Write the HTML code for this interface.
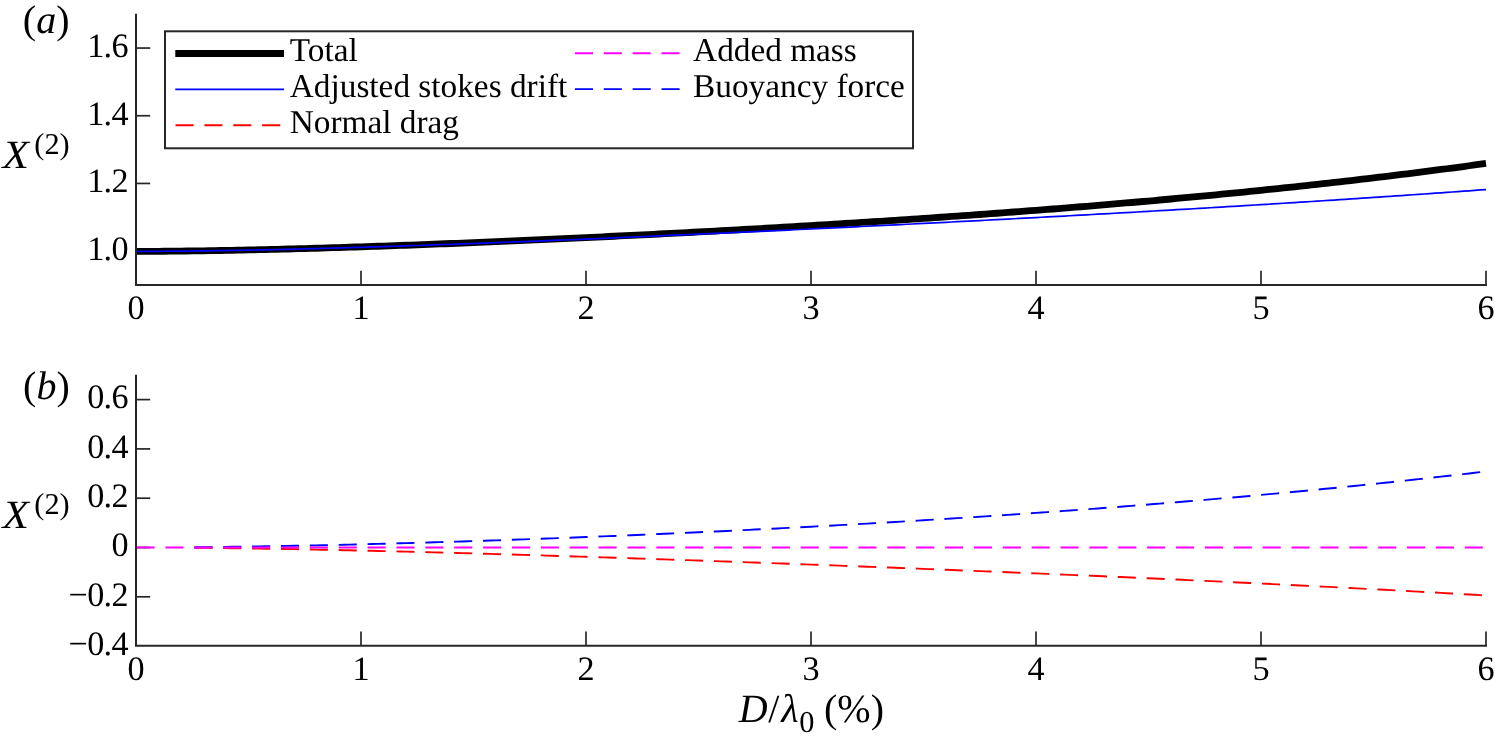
<!DOCTYPE html>
<html><head><meta charset="utf-8"><title>Figure</title>
<style>
html,body{margin:0;padding:0;background:#fff;}
body{width:1495px;height:742px;overflow:hidden;}
svg{display:block;will-change:transform;}
text{font-family:"Liberation Serif",serif;fill:#000;text-rendering:geometricPrecision;}
.t{font-size:33.3px;}
.k{font-size:34.2px;letter-spacing:-0.7px;}
.l{font-size:40px;}
.s{font-size:30.3px;}
.i{font-style:italic;}
.ax{stroke:#262626;stroke-width:2;fill:none;}
.tk{stroke:#262626;stroke-width:1.7;fill:none;}
.c{fill:none;stroke-width:1.9;}
.d{stroke-dasharray:18.1 10.773;stroke-dashoffset:-0.6;}
</style></head><body>
<svg width="1495" height="742" viewBox="0 0 1495 742">
<rect x="0" y="0" width="1495" height="742" fill="#fff"/>
<g id="panel-a">
<path class="tk" d="M136.0,251.15 h14.2"/>
<text class="k" x="127.8" y="259.95" text-anchor="end">1.0</text>
<path class="tk" d="M136.0,183.45 h14.2"/>
<text class="k" x="127.8" y="192.25" text-anchor="end">1.2</text>
<path class="tk" d="M136.0,115.75 h14.2"/>
<text class="k" x="127.8" y="124.55" text-anchor="end">1.4</text>
<path class="tk" d="M136.0,48.05 h14.2"/>
<text class="k" x="127.8" y="56.85" text-anchor="end">1.6</text>
<text class="k" x="135.80" y="318.50" text-anchor="middle">0</text>
<path class="tk" d="M361.00,285.0 v-14.2"/>
<text class="k" x="360.80" y="318.50" text-anchor="middle">1</text>
<path class="tk" d="M586.00,285.0 v-14.2"/>
<text class="k" x="585.80" y="318.50" text-anchor="middle">2</text>
<path class="tk" d="M811.00,285.0 v-14.2"/>
<text class="k" x="810.80" y="318.50" text-anchor="middle">3</text>
<path class="tk" d="M1036.00,285.0 v-14.2"/>
<text class="k" x="1035.80" y="318.50" text-anchor="middle">4</text>
<path class="tk" d="M1261.00,285.0 v-14.2"/>
<text class="k" x="1260.80" y="318.50" text-anchor="middle">5</text>
<path class="tk" d="M1486.00,285.0 v-14.2"/>
<text class="k" x="1485.80" y="318.50" text-anchor="middle">6</text>
<path d="M136.00,251.35 L141.62,251.35 L147.25,251.33 L152.88,251.31 L158.50,251.28 L164.12,251.24 L169.75,251.20 L175.38,251.15 L181.00,251.09 L186.62,251.02 L192.25,250.95 L197.88,250.88 L203.50,250.80 L209.12,250.71 L214.75,250.62 L220.38,250.52 L226.00,250.42 L231.62,250.31 L237.25,250.20 L242.88,250.08 L248.50,249.96 L254.12,249.84 L259.75,249.71 L265.38,249.58 L271.00,249.44 L276.62,249.30 L282.25,249.16 L287.88,249.01 L293.50,248.86 L299.12,248.71 L304.75,248.55 L310.38,248.39 L316.00,248.23 L321.62,248.06 L327.25,247.89 L332.88,247.72 L338.50,247.54 L344.12,247.37 L349.75,247.18 L355.38,247.00 L361.00,246.81 L366.62,246.63 L372.25,246.43 L377.88,246.24 L383.50,246.04 L389.12,245.85 L394.75,245.64 L400.38,245.44 L406.00,245.23 L411.62,245.03 L417.25,244.82 L422.88,244.60 L428.50,244.39 L434.13,244.17 L439.75,243.95 L445.38,243.73 L451.00,243.51 L456.62,243.28 L462.25,243.06 L467.88,242.83 L473.50,242.60 L479.13,242.37 L484.75,242.13 L490.38,241.89 L496.00,241.66 L501.62,241.42 L507.25,241.17 L512.88,240.93 L518.50,240.69 L524.12,240.44 L529.75,240.19 L535.38,239.94 L541.00,239.69 L546.62,239.43 L552.25,239.18 L557.88,238.92 L563.50,238.66 L569.12,238.40 L574.75,238.13 L580.38,237.87 L586.00,237.60 L591.62,237.34 L597.25,237.07 L602.88,236.80 L608.50,236.52 L614.12,236.25 L619.75,235.97 L625.38,235.70 L631.00,235.42 L636.62,235.13 L642.25,234.85 L647.88,234.57 L653.50,234.28 L659.12,233.99 L664.75,233.71 L670.38,233.41 L676.00,233.12 L681.63,232.83 L687.25,232.53 L692.88,232.23 L698.50,231.93 L704.13,231.63 L709.75,231.33 L715.38,231.03 L721.00,230.72 L726.62,230.41 L732.25,230.10 L737.88,229.79 L743.50,229.48 L749.12,229.16 L754.75,228.84 L760.38,228.52 L766.00,228.20 L771.62,227.88 L777.25,227.56 L782.88,227.23 L788.50,226.90 L794.13,226.57 L799.75,226.24 L805.38,225.91 L811.00,225.57 L816.63,225.23 L822.25,224.89 L827.88,224.55 L833.50,224.21 L839.12,223.86 L844.75,223.51 L850.38,223.16 L856.00,222.81 L861.62,222.46 L867.25,222.10 L872.88,221.74 L878.50,221.38 L884.12,221.02 L889.75,220.65 L895.38,220.29 L901.00,219.92 L906.63,219.54 L912.25,219.17 L917.88,218.79 L923.50,218.41 L929.13,218.03 L934.75,217.65 L940.38,217.26 L946.00,216.87 L951.62,216.48 L957.25,216.09 L962.88,215.69 L968.50,215.29 L974.12,214.89 L979.75,214.49 L985.38,214.08 L991.00,213.67 L996.62,213.26 L1002.25,212.85 L1007.88,212.43 L1013.50,212.01 L1019.13,211.59 L1024.75,211.16 L1030.38,210.73 L1036.00,210.30 L1041.62,209.87 L1047.25,209.43 L1052.88,208.99 L1058.50,208.54 L1064.12,208.10 L1069.75,207.65 L1075.38,207.20 L1081.00,206.74 L1086.62,206.28 L1092.25,205.82 L1097.88,205.35 L1103.50,204.89 L1109.12,204.41 L1114.75,203.94 L1120.38,203.46 L1126.00,202.98 L1131.62,202.49 L1137.25,202.00 L1142.88,201.51 L1148.50,201.02 L1154.12,200.52 L1159.75,200.01 L1165.38,199.51 L1171.00,199.00 L1176.62,198.48 L1182.25,197.97 L1187.88,197.44 L1193.50,196.92 L1199.13,196.39 L1204.75,195.86 L1210.38,195.32 L1216.00,194.78 L1221.62,194.24 L1227.25,193.69 L1232.88,193.13 L1238.50,192.58 L1244.13,192.02 L1249.75,191.45 L1255.38,190.88 L1261.00,190.31 L1266.62,189.73 L1272.25,189.15 L1277.88,188.56 L1283.50,187.97 L1289.12,187.38 L1294.75,186.78 L1300.38,186.17 L1306.00,185.56 L1311.63,184.95 L1317.25,184.33 L1322.88,183.71 L1328.50,183.08 L1334.12,182.45 L1339.75,181.81 L1345.38,181.17 L1351.00,180.53 L1356.63,179.88 L1362.25,179.22 L1367.88,178.56 L1373.50,177.89 L1379.12,177.22 L1384.75,176.54 L1390.38,175.86 L1396.00,175.17 L1401.62,174.48 L1407.25,173.79 L1412.88,173.08 L1418.50,172.37 L1424.13,171.66 L1429.75,170.94 L1435.38,170.22 L1441.00,169.49 L1446.62,168.75 L1452.25,168.01 L1457.88,167.27 L1463.50,166.51 L1469.13,165.75 L1474.75,164.99 L1480.38,164.22 L1486.00,163.45" fill="none" stroke="#000" stroke-width="6.8"/>
<path class="c" d="M136.00,251.35 L141.62,251.35 L147.25,251.34 L152.88,251.32 L158.50,251.29 L164.12,251.26 L169.75,251.22 L175.38,251.17 L181.00,251.12 L186.62,251.07 L192.25,251.00 L197.88,250.94 L203.50,250.87 L209.12,250.79 L214.75,250.71 L220.38,250.62 L226.00,250.53 L231.62,250.44 L237.25,250.34 L242.88,250.24 L248.50,250.13 L254.12,250.02 L259.75,249.90 L265.38,249.79 L271.00,249.66 L276.62,249.54 L282.25,249.41 L287.88,249.28 L293.50,249.14 L299.12,249.01 L304.75,248.86 L310.38,248.72 L316.00,248.57 L321.62,248.42 L327.25,248.27 L332.88,248.12 L338.50,247.96 L344.12,247.80 L349.75,247.63 L355.38,247.47 L361.00,247.30 L366.62,247.13 L372.25,246.96 L377.88,246.78 L383.50,246.60 L389.12,246.43 L394.75,246.24 L400.38,246.06 L406.00,245.87 L411.62,245.69 L417.25,245.50 L422.88,245.31 L428.50,245.11 L434.13,244.92 L439.75,244.72 L445.38,244.52 L451.00,244.32 L456.62,244.12 L462.25,243.92 L467.88,243.71 L473.50,243.50 L479.13,243.29 L484.75,243.08 L490.38,242.87 L496.00,242.66 L501.62,242.44 L507.25,242.23 L512.88,242.01 L518.50,241.79 L524.12,241.57 L529.75,241.35 L535.38,241.13 L541.00,240.90 L546.62,240.68 L552.25,240.45 L557.88,240.22 L563.50,240.00 L569.12,239.77 L574.75,239.53 L580.38,239.30 L586.00,239.07 L591.62,238.83 L597.25,238.60 L602.88,238.36 L608.50,238.12 L614.12,237.88 L619.75,237.64 L625.38,237.40 L631.00,237.16 L636.62,236.92 L642.25,236.68 L647.88,236.43 L653.50,236.18 L659.12,235.94 L664.75,235.69 L670.38,235.44 L676.00,235.19 L681.63,234.94 L687.25,234.69 L692.88,234.44 L698.50,234.19 L704.13,233.93 L709.75,233.68 L715.38,233.42 L721.00,233.17 L726.62,232.91 L732.25,232.65 L737.88,232.39 L743.50,232.13 L749.12,231.87 L754.75,231.61 L760.38,231.35 L766.00,231.09 L771.62,230.82 L777.25,230.56 L782.88,230.29 L788.50,230.03 L794.13,229.76 L799.75,229.49 L805.38,229.23 L811.00,228.96 L816.63,228.69 L822.25,228.42 L827.88,228.15 L833.50,227.87 L839.12,227.60 L844.75,227.33 L850.38,227.05 L856.00,226.78 L861.62,226.50 L867.25,226.23 L872.88,225.95 L878.50,225.67 L884.12,225.39 L889.75,225.11 L895.38,224.83 L901.00,224.55 L906.63,224.27 L912.25,223.99 L917.88,223.70 L923.50,223.42 L929.13,223.13 L934.75,222.85 L940.38,222.56 L946.00,222.28 L951.62,221.99 L957.25,221.70 L962.88,221.41 L968.50,221.12 L974.12,220.83 L979.75,220.53 L985.38,220.24 L991.00,219.95 L996.62,219.65 L1002.25,219.36 L1007.88,219.06 L1013.50,218.76 L1019.13,218.46 L1024.75,218.16 L1030.38,217.86 L1036.00,217.56 L1041.62,217.26 L1047.25,216.96 L1052.88,216.65 L1058.50,216.35 L1064.12,216.04 L1069.75,215.74 L1075.38,215.43 L1081.00,215.12 L1086.62,214.81 L1092.25,214.50 L1097.88,214.19 L1103.50,213.88 L1109.12,213.56 L1114.75,213.25 L1120.38,212.93 L1126.00,212.62 L1131.62,212.30 L1137.25,211.98 L1142.88,211.66 L1148.50,211.34 L1154.12,211.02 L1159.75,210.69 L1165.38,210.37 L1171.00,210.04 L1176.62,209.72 L1182.25,209.39 L1187.88,209.06 L1193.50,208.73 L1199.13,208.40 L1204.75,208.07 L1210.38,207.73 L1216.00,207.40 L1221.62,207.06 L1227.25,206.72 L1232.88,206.38 L1238.50,206.04 L1244.13,205.70 L1249.75,205.36 L1255.38,205.01 L1261.00,204.67 L1266.62,204.32 L1272.25,203.97 L1277.88,203.62 L1283.50,203.27 L1289.12,202.92 L1294.75,202.57 L1300.38,202.21 L1306.00,201.85 L1311.63,201.50 L1317.25,201.14 L1322.88,200.77 L1328.50,200.41 L1334.12,200.05 L1339.75,199.68 L1345.38,199.31 L1351.00,198.94 L1356.63,198.57 L1362.25,198.20 L1367.88,197.83 L1373.50,197.45 L1379.12,197.07 L1384.75,196.69 L1390.38,196.31 L1396.00,195.93 L1401.62,195.55 L1407.25,195.16 L1412.88,194.77 L1418.50,194.38 L1424.13,193.99 L1429.75,193.60 L1435.38,193.20 L1441.00,192.81 L1446.62,192.41 L1452.25,192.01 L1457.88,191.60 L1463.50,191.20 L1469.13,190.79 L1474.75,190.38 L1480.38,189.97 L1486.00,189.56" stroke="#0000ff" style="stroke-width:1.7"/>
<path class="ax" d="M136.0,13.7 L136.0,285.0 L1487.0,285.0"/>
<rect x="165.0" y="31.3" width="748.0" height="117.0" fill="#fff" stroke="#262626" stroke-width="2"/>
<path d="M175.3,53.5 h108.7" stroke="#000" stroke-width="7.0" fill="none"/>
<path class="c" d="M175.3,89.3 h108.7" stroke="#0000ff" style="stroke-width:1.7"/>
<path class="c d" d="M175.5,125.3 h108.5" stroke="#ff0000" style="stroke-dashoffset:0"/>
<path class="c d" d="M574.9,53.2 h108.5" stroke="#ff00ff" style="stroke-dashoffset:0"/>
<path class="c d" d="M574.9,89.1 h108.5" stroke="#0000ff" style="stroke-dashoffset:0"/>
<text class="t" x="289.8" y="61.1">Total</text>
<text class="t" x="289.8" y="97.0">Adjusted stokes drift</text>
<text class="t" x="289.8" y="132.9">Normal drag</text>
<text class="t" x="693.1" y="61.1">Added mass</text>
<text class="t" x="693.1" y="97.0">Buoyancy force</text>
<text class="l" x="22.8" y="32.8"><tspan>(</tspan><tspan class="i">a</tspan><tspan>)</tspan></text>
<text class="l i" transform="translate(2.4,167.7) scale(1.08,1)">X</text><text class="s" x="34.3" y="154.2">(2)</text>
</g>
<g id="panel-b">
<path class="tk" d="M136.0,399.60 h14.2"/>
<text class="k" x="127.8" y="408.40" text-anchor="end">0.6</text>
<path class="tk" d="M136.0,448.90 h14.2"/>
<text class="k" x="127.8" y="457.70" text-anchor="end">0.4</text>
<path class="tk" d="M136.0,498.20 h14.2"/>
<text class="k" x="127.8" y="507.00" text-anchor="end">0.2</text>
<path class="tk" d="M136.0,547.50 h14.2"/>
<text class="k" x="127.8" y="556.30" text-anchor="end">0</text>
<path class="tk" d="M136.0,596.80 h14.2"/>
<text class="k" x="127.8" y="605.60" text-anchor="end">−0.2</text>
<text class="k" x="127.8" y="654.90" text-anchor="end">−0.4</text>
<text class="k" x="135.80" y="680.40" text-anchor="middle">0</text>
<path class="tk" d="M361.00,645.8 v-14.2"/>
<text class="k" x="360.80" y="680.40" text-anchor="middle">1</text>
<path class="tk" d="M586.00,645.8 v-14.2"/>
<text class="k" x="585.80" y="680.40" text-anchor="middle">2</text>
<path class="tk" d="M811.00,645.8 v-14.2"/>
<text class="k" x="810.80" y="680.40" text-anchor="middle">3</text>
<path class="tk" d="M1036.00,645.8 v-14.2"/>
<text class="k" x="1035.80" y="680.40" text-anchor="middle">4</text>
<path class="tk" d="M1261.00,645.8 v-14.2"/>
<text class="k" x="1260.80" y="680.40" text-anchor="middle">5</text>
<path class="tk" d="M1486.00,645.8 v-14.2"/>
<text class="k" x="1485.80" y="680.40" text-anchor="middle">6</text>
<path class="c d" d="M194.35,547.78 L197.88,547.81 L203.50,547.87 L209.12,547.92 L214.75,547.98 L220.38,548.05 L226.00,548.12 L231.62,548.19 L237.25,548.26 L242.88,548.34 L248.50,548.42 L254.12,548.50 L259.75,548.59 L265.38,548.68 L271.00,548.77 L276.62,548.87 L282.25,548.96 L287.88,549.06 L293.50,549.16 L299.12,549.27 L304.75,549.37 L310.38,549.48 L316.00,549.59 L321.62,549.71 L327.25,549.82 L332.88,549.94 L338.50,550.06 L344.12,550.18 L349.75,550.30 L355.38,550.43 L361.00,550.56 L366.62,550.69 L372.25,550.82 L377.88,550.95 L383.50,551.08 L389.12,551.22 L394.75,551.36 L400.38,551.50 L406.00,551.64 L411.62,551.78 L417.25,551.92 L422.88,552.07 L428.50,552.21 L434.13,552.36 L439.75,552.51 L445.38,552.66 L451.00,552.81 L456.62,552.97 L462.25,553.12 L467.88,553.28 L473.50,553.44 L479.13,553.59 L484.75,553.75 L490.38,553.92 L496.00,554.08 L501.62,554.24 L507.25,554.41 L512.88,554.57 L518.50,554.74 L524.12,554.91 L529.75,555.07 L535.38,555.24 L541.00,555.41 L546.62,555.59 L552.25,555.76 L557.88,555.93 L563.50,556.11 L569.12,556.28 L574.75,556.46 L580.38,556.64 L586.00,556.81 L591.62,556.99 L597.25,557.17 L602.88,557.35 L608.50,557.54 L614.12,557.72 L619.75,557.90 L625.38,558.09 L631.00,558.27 L636.62,558.46 L642.25,558.64 L647.88,558.83 L653.50,559.02 L659.12,559.21 L664.75,559.40 L670.38,559.59 L676.00,559.78 L681.63,559.97 L687.25,560.17 L692.88,560.36 L698.50,560.55 L704.13,560.75 L709.75,560.94 L715.38,561.14 L721.00,561.34 L726.62,561.53 L732.25,561.73 L737.88,561.93 L743.50,562.13 L749.12,562.33 L754.75,562.53 L760.38,562.73 L766.00,562.94 L771.62,563.14 L777.25,563.34 L782.88,563.55 L788.50,563.75 L794.13,563.96 L799.75,564.16 L805.38,564.37 L811.00,564.58 L816.63,564.79 L822.25,564.99 L827.88,565.20 L833.50,565.41 L839.12,565.63 L844.75,565.84 L850.38,566.05 L856.00,566.26 L861.62,566.47 L867.25,566.69 L872.88,566.90 L878.50,567.12 L884.12,567.33 L889.75,567.55 L895.38,567.77 L901.00,567.99 L906.63,568.21 L912.25,568.42 L917.88,568.64 L923.50,568.87 L929.13,569.09 L934.75,569.31 L940.38,569.53 L946.00,569.75 L951.62,569.98 L957.25,570.20 L962.88,570.43 L968.50,570.65 L974.12,570.88 L979.75,571.11 L985.38,571.34 L991.00,571.57 L996.62,571.80 L1002.25,572.03 L1007.88,572.26 L1013.50,572.49 L1019.13,572.72 L1024.75,572.95 L1030.38,573.19 L1036.00,573.42 L1041.62,573.66 L1047.25,573.90 L1052.88,574.13 L1058.50,574.37 L1064.12,574.61 L1069.75,574.85 L1075.38,575.09 L1081.00,575.33 L1086.62,575.57 L1092.25,575.82 L1097.88,576.06 L1103.50,576.30 L1109.12,576.55 L1114.75,576.80 L1120.38,577.04 L1126.00,577.29 L1131.62,577.54 L1137.25,577.79 L1142.88,578.04 L1148.50,578.29 L1154.12,578.54 L1159.75,578.80 L1165.38,579.05 L1171.00,579.31 L1176.62,579.56 L1182.25,579.82 L1187.88,580.08 L1193.50,580.34 L1199.13,580.60 L1204.75,580.86 L1210.38,581.12 L1216.00,581.39 L1221.62,581.65 L1227.25,581.92 L1232.88,582.18 L1238.50,582.45 L1244.13,582.72 L1249.75,582.99 L1255.38,583.26 L1261.00,583.53 L1266.62,583.80 L1272.25,584.08 L1277.88,584.35 L1283.50,584.63 L1289.12,584.91 L1294.75,585.19 L1300.38,585.47 L1306.00,585.75 L1311.63,586.03 L1317.25,586.31 L1322.88,586.60 L1328.50,586.88 L1334.12,587.17 L1339.75,587.46 L1345.38,587.75 L1351.00,588.04 L1356.63,588.33 L1362.25,588.63 L1367.88,588.92 L1373.50,589.22 L1379.12,589.52 L1384.75,589.82 L1390.38,590.12 L1396.00,590.42 L1401.62,590.72 L1407.25,591.03 L1412.88,591.33 L1418.50,591.64 L1424.13,591.95 L1429.75,592.26 L1435.38,592.57 L1441.00,592.89 L1446.62,593.20 L1452.25,593.52 L1457.88,593.84 L1463.50,594.16 L1469.13,594.48 L1474.75,594.80 L1480.38,595.13 L1486.00,595.45" stroke="#ff0000" style="stroke-dashoffset:0"/>
<path class="c d" d="M194.35,547.22 L197.88,547.19 L203.50,547.13 L209.12,547.08 L214.75,547.01 L220.38,546.95 L226.00,546.88 L231.62,546.81 L237.25,546.73 L242.88,546.65 L248.50,546.57 L254.12,546.48 L259.75,546.39 L265.38,546.30 L271.00,546.21 L276.62,546.11 L282.25,546.01 L287.88,545.90 L293.50,545.80 L299.12,545.69 L304.75,545.58 L310.38,545.46 L316.00,545.34 L321.62,545.22 L327.25,545.10 L332.88,544.98 L338.50,544.85 L344.12,544.72 L349.75,544.58 L355.38,544.45 L361.00,544.31 L366.62,544.17 L372.25,544.03 L377.88,543.89 L383.50,543.74 L389.12,543.59 L394.75,543.44 L400.38,543.28 L406.00,543.13 L411.62,542.97 L417.25,542.81 L422.88,542.65 L428.50,542.48 L434.13,542.32 L439.75,542.15 L445.38,541.98 L451.00,541.81 L456.62,541.63 L462.25,541.45 L467.88,541.27 L473.50,541.09 L479.13,540.91 L484.75,540.73 L490.38,540.54 L496.00,540.35 L501.62,540.16 L507.25,539.97 L512.88,539.77 L518.50,539.57 L524.12,539.37 L529.75,539.17 L535.38,538.97 L541.00,538.77 L546.62,538.56 L552.25,538.35 L557.88,538.14 L563.50,537.93 L569.12,537.71 L574.75,537.50 L580.38,537.28 L586.00,537.06 L591.62,536.84 L597.25,536.61 L602.88,536.39 L608.50,536.16 L614.12,535.93 L619.75,535.70 L625.38,535.47 L631.00,535.23 L636.62,535.00 L642.25,534.76 L647.88,534.52 L653.50,534.27 L659.12,534.03 L664.75,533.78 L670.38,533.53 L676.00,533.28 L681.63,533.03 L687.25,532.78 L692.88,532.52 L698.50,532.26 L704.13,532.00 L709.75,531.74 L715.38,531.48 L721.00,531.21 L726.62,530.94 L732.25,530.67 L737.88,530.40 L743.50,530.13 L749.12,529.85 L754.75,529.57 L760.38,529.29 L766.00,529.01 L771.62,528.73 L777.25,528.44 L782.88,528.15 L788.50,527.86 L794.13,527.57 L799.75,527.28 L805.38,526.98 L811.00,526.68 L816.63,526.38 L822.25,526.08 L827.88,525.77 L833.50,525.47 L839.12,525.16 L844.75,524.85 L850.38,524.54 L856.00,524.22 L861.62,523.90 L867.25,523.58 L872.88,523.26 L878.50,522.94 L884.12,522.61 L889.75,522.28 L895.38,521.95 L901.00,521.62 L906.63,521.28 L912.25,520.95 L917.88,520.61 L923.50,520.26 L929.13,519.92 L934.75,519.57 L940.38,519.22 L946.00,518.87 L951.62,518.52 L957.25,518.16 L962.88,517.80 L968.50,517.44 L974.12,517.08 L979.75,516.71 L985.38,516.34 L991.00,515.97 L996.62,515.60 L1002.25,515.22 L1007.88,514.84 L1013.50,514.46 L1019.13,514.08 L1024.75,513.69 L1030.38,513.30 L1036.00,512.91 L1041.62,512.52 L1047.25,512.12 L1052.88,511.72 L1058.50,511.32 L1064.12,510.91 L1069.75,510.51 L1075.38,510.10 L1081.00,509.68 L1086.62,509.27 L1092.25,508.85 L1097.88,508.43 L1103.50,508.00 L1109.12,507.58 L1114.75,507.15 L1120.38,506.71 L1126.00,506.28 L1131.62,505.84 L1137.25,505.40 L1142.88,504.95 L1148.50,504.51 L1154.12,504.06 L1159.75,503.60 L1165.38,503.15 L1171.00,502.69 L1176.62,502.23 L1182.25,501.76 L1187.88,501.29 L1193.50,500.82 L1199.13,500.35 L1204.75,499.87 L1210.38,499.39 L1216.00,498.90 L1221.62,498.42 L1227.25,497.92 L1232.88,497.43 L1238.50,496.93 L1244.13,496.43 L1249.75,495.93 L1255.38,495.42 L1261.00,494.91 L1266.62,494.40 L1272.25,493.88 L1277.88,493.36 L1283.50,492.84 L1289.12,492.31 L1294.75,491.78 L1300.38,491.24 L1306.00,490.70 L1311.63,490.16 L1317.25,489.62 L1322.88,489.07 L1328.50,488.52 L1334.12,487.96 L1339.75,487.40 L1345.38,486.84 L1351.00,486.27 L1356.63,485.70 L1362.25,485.12 L1367.88,484.55 L1373.50,483.96 L1379.12,483.38 L1384.75,482.79 L1390.38,482.19 L1396.00,481.60 L1401.62,481.00 L1407.25,480.39 L1412.88,479.78 L1418.50,479.17 L1424.13,478.55 L1429.75,477.93 L1435.38,477.30 L1441.00,476.67 L1446.62,476.04 L1452.25,475.40 L1457.88,474.76 L1463.50,474.12 L1469.13,473.47 L1474.75,472.81 L1480.38,472.15 L1486.00,471.49" stroke="#0000ff" style="stroke-dashoffset:0"/>
<path class="c d" d="M136.0,547.5 H1486.0" stroke="#ff00ff"/>
<path class="ax" d="M136.0,374.8 L136.0,645.8 L1487.0,645.8"/>
<text class="l" x="23.1" y="399.3"><tspan>(</tspan><tspan class="i">b</tspan><tspan>)</tspan></text>
<text class="l i" transform="translate(2.4,528) scale(1.08,1)">X</text><text class="s" x="34.3" y="514.1">(2)</text>
<text class="l" x="738.8" y="722.4"><tspan class="i">D</tspan><tspan dx="0.6">/</tspan><tspan class="i" dx="1.8">λ</tspan><tspan class="s" dx="0.7" dy="9.4">0</tspan><tspan dx="-0.4" dy="-9.4"> (%)</tspan></text>
</g>
</svg></body></html>
